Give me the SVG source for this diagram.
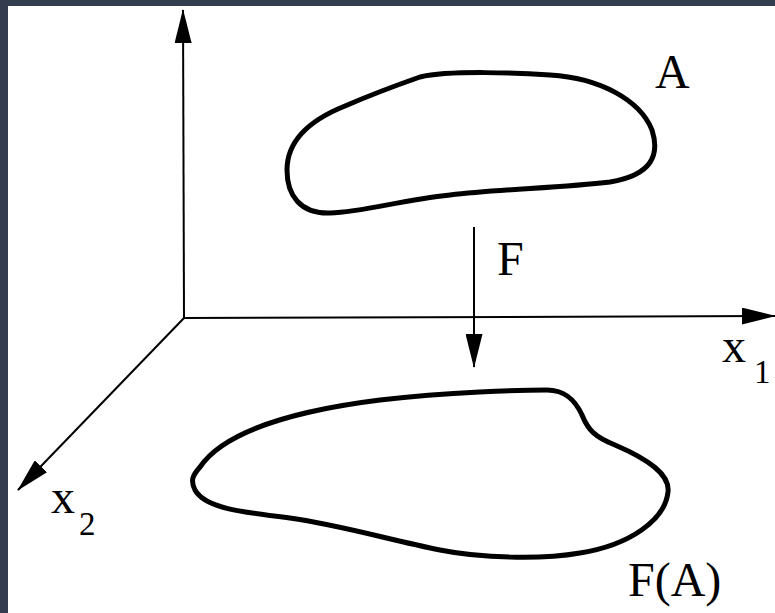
<svg xmlns="http://www.w3.org/2000/svg" width="775" height="613" viewBox="0 0 775 613">
  <defs>
    <marker id="arrow" viewBox="0 0 34 17" refX="33" refY="8.5" markerWidth="34" markerHeight="17" markerUnits="userSpaceOnUse" orient="auto">
      <path d="M0,0 L34,8.5 L0,17 Z" fill="#000"/>
    </marker>
  </defs>
  <style>
    .axis { stroke: #000; stroke-width: 2; fill: none; }
    .blob { stroke: #000; stroke-width: 5; fill: none; stroke-linejoin: round; }
    text { font-family: 'Liberation Serif', 'DejaVu Serif', serif; fill: #000; }
    .lbl { font-size: 48px; }
    .sub { font-size: 33px; }
  </style>
  <rect x="0" y="0" width="775" height="613" fill="#ffffff"/>
  <rect x="0" y="0" width="775" height="6" fill="#333d4f"/>
  <rect x="0" y="0" width="8" height="613" fill="#333d4f"/>

  <g id="connectors">
    <line class="axis" x1="184" y1="318" x2="183" y2="10" marker-end="url(#arrow)"/>
    <line class="axis" x1="184" y1="318" x2="775" y2="316" marker-end="url(#arrow)"/>
    <line class="axis" x1="184" y1="318" x2="18" y2="490" stroke-width="1.6" marker-end="url(#arrow)"/>
    <line class="axis" x1="474" y1="227" x2="474" y2="367" stroke-width="1.6" marker-end="url(#arrow)"/>
  </g>

  <g id="set-A">
    <path class="blob" d="M 420,77 C 450,70 520,73 550,75 C 600,78 640,100 652,130 C 660,155 652,175 610,182 C 560,188 500,189 450,195 C 400,200 365,212 330,213 C 300,214 287,195 287,170 C 287,140 310,120 345,106 C 375,93 400,84 420,77 Z"/>
    <text class="lbl" x="655" y="88" font-family="Liberation Serif, DejaVu Serif, serif">A</text>
  </g>

  <g id="set-FA">
    <path class="blob" d="M 200,467 C 225,430 300,410 380,400 C 450,392 520,390 547,390 C 565,390 575,400 582,415 C 588,430 595,437 615,445 C 650,460 670,475 668,492 C 665,520 630,545 580,553 C 540,560 480,558 440,550 C 390,540 340,525 290,518 C 240,512 205,508 195,490 C 190,480 193,475 200,467 Z"/>
    <text class="lbl" x="628" y="596" font-family="Liberation Serif, DejaVu Serif, serif">F(A)</text>
  </g>

  <g id="label-F">
    <text class="lbl" x="497" y="275" font-family="Liberation Serif, DejaVu Serif, serif">F</text>
  </g>

  <g id="label-x1">
    <text class="lbl" x="722" y="362" font-family="Liberation Serif, DejaVu Serif, serif">x</text>
    <text class="sub" x="754" y="383" font-family="Liberation Serif, DejaVu Serif, serif">1</text>
  </g>

  <g id="label-x2">
    <text class="lbl" x="51" y="513" font-family="Liberation Serif, DejaVu Serif, serif">x</text>
    <text class="sub" x="79" y="535" font-family="Liberation Serif, DejaVu Serif, serif">2</text>
  </g>
</svg>
